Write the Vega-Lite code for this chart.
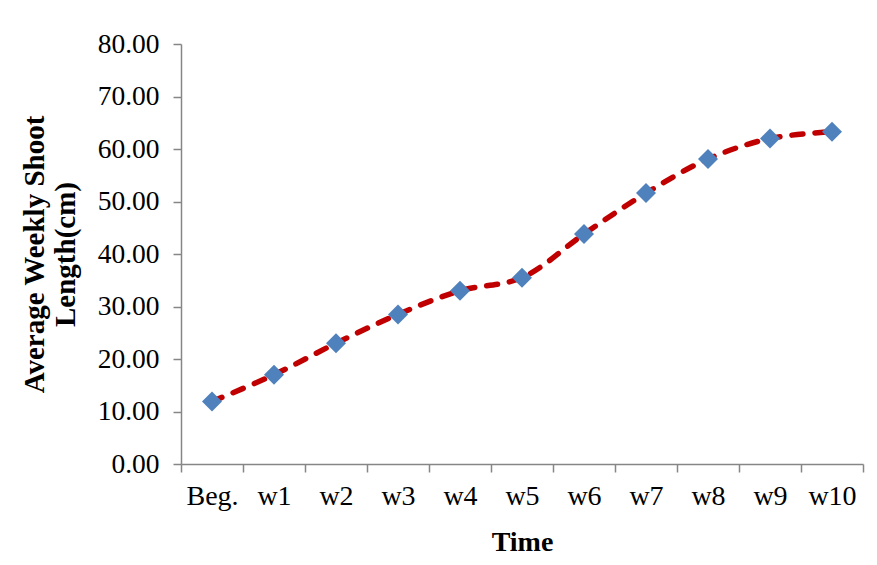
{
  "$schema": "https://vega.github.io/schema/vega-lite/v6.json",
  "autosize": {"type": "none"},
  "width": 682,
  "height": 420,
  "padding": {"left": 181, "top": 44, "right": 14, "bottom": 101},
  "background": "white",
  "config": {
    "view": {"stroke": null},
    "font": "Liberation Serif",
    "axis": {
      "labelFont": "Liberation Serif",
      "titleFont": "Liberation Serif",
      "labelColor": "black",
      "titleColor": "black",
      "domainColor": "#868686",
      "tickColor": "#868686",
      "domainWidth": 1.5,
      "tickWidth": 1.5,
      "grid": false
    }
  },
  "data": {
    "values": [
      {"time": "Beg.", "length": 11.9},
      {"time": "w1", "length": 17.0},
      {"time": "w2", "length": 23.0},
      {"time": "w3", "length": 28.5},
      {"time": "w4", "length": 33.0},
      {"time": "w5", "length": 35.5},
      {"time": "w6", "length": 43.8},
      {"time": "w7", "length": 51.6},
      {"time": "w8", "length": 58.1},
      {"time": "w9", "length": 62.0},
      {"time": "w10", "length": 63.3}
    ]
  },
  "encoding": {
    "x": {
      "field": "time",
      "type": "ordinal",
      "sort": null,
      "scale": {"type": "band", "paddingInner": 0, "paddingOuter": 0},
      "axis": {
        "title": "Time",
        "titleFontSize": 28,
        "titleFontWeight": "bold",
        "titlePadding": 18,
        "labelFontSize": 28,
        "labelAngle": 0,
        "labelPadding": 10,
        "tickSize": 8,
        "tickBand": "extent"
      }
    },
    "y": {
      "field": "length",
      "type": "quantitative",
      "scale": {"domain": [0, 80], "nice": false, "zero": true},
      "axis": {
        "title": ["Average Weekly Shoot", "Length(cm)"],
        "titleFontSize": 29,
        "titleFontWeight": "bold",
        "titleLineHeight": 31,
        "titlePadding": 17,
        "labelFontSize": 27.5,
        "labelPadding": 14,
        "tickSize": 8,
        "values": [0, 10, 20, 30, 40, 50, 60, 70, 80],
        "format": ".2f"
      }
    }
  },
  "layer": [
    {
      "mark": {
        "type": "line",
        "interpolate": "catmull-rom",
        "stroke": "#C00000",
        "strokeWidth": 5.5,
        "strokeDash": [11, 12],
        "strokeCap": "round"
      }
    },
    {
      "mark": {
        "type": "point",
        "shape": "diamond",
        "filled": true,
        "fill": "#4F81BD",
        "opacity": 1,
        "size": 400
      }
    }
  ]
}
